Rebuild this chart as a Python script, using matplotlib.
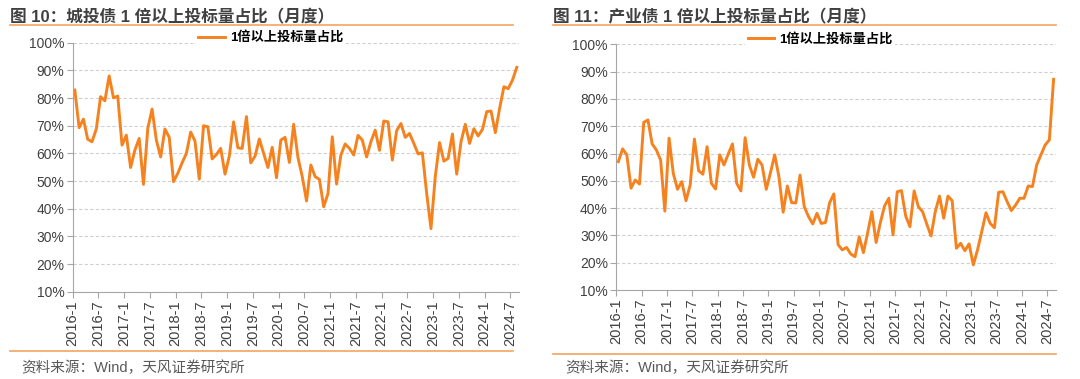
import numpy as np
import matplotlib.pyplot as plt
from matplotlib.lines import Line2D

plt.rcParams['font.family'] = ['Liberation Sans', 'Noto Sans CJK SC', 'DejaVu Sans']

# monthly, 2016-1 .. 2024-8 (%)
chengtou = [82.9, 69.3, 72.4, 65.1, 64.2, 68.8, 80.5, 79.0, 88.0, 80.1, 80.7, 63.0,
            66.6, 54.9, 61.2, 65.4, 48.8, 69.0, 76.0, 64.8, 58.7, 68.8, 65.8, 49.8,
            52.8, 56.6, 60.0, 67.7, 64.5, 50.7, 70.0, 69.6, 58.0, 59.6, 61.8, 52.5,
            59.0, 71.4, 62.0, 61.8, 73.3, 56.6, 59.0, 65.2, 60.0, 54.9, 62.2, 51.2,
            64.8, 65.8, 56.7, 70.5, 58.5, 51.6, 42.8, 55.8, 51.6, 50.6, 40.7, 45.5,
            66.0, 48.9, 59.4, 63.4, 61.8, 59.4, 66.5, 64.8, 58.7, 64.2, 68.4, 61.1,
            71.7, 71.4, 57.6, 68.2, 70.8, 65.8, 67.2, 63.6, 59.8, 60.2, 45.5, 32.8,
            51.6, 63.9, 57.2, 58.2, 67.0, 52.5, 64.2, 70.5, 63.6, 68.9, 66.3, 68.7,
            75.1, 75.3, 67.5, 76.3, 84.1, 83.4, 86.5, 91.1]
chanye = [57.0, 61.7, 59.5, 47.3, 50.3, 48.8, 71.4, 72.3, 63.5, 61.3, 57.6, 38.9,
          65.6, 52.7, 46.9, 49.7, 42.7, 48.5, 65.3, 53.7, 52.4, 62.5, 49.1, 47.0,
          59.5, 55.8, 59.8, 63.5, 49.1, 46.3, 65.8, 55.8, 51.3, 57.9, 55.8, 46.9,
          53.0, 59.5, 51.5, 38.5, 48.1, 42.0, 41.9, 52.1, 40.5, 36.9, 34.2, 38.1,
          34.4, 34.7, 42.0, 45.2, 26.6, 24.7, 25.6, 23.2, 22.2, 29.5, 23.7, 31.0,
          38.7, 27.4, 34.7, 40.8, 43.6, 30.2, 46.0, 46.4, 37.1, 33.2, 46.3, 40.5,
          38.7, 34.1, 29.8, 38.7, 44.4, 36.3, 44.4, 42.7, 25.3, 27.1, 24.4, 26.9,
          19.2, 24.7, 31.4, 38.3, 34.4, 32.8, 45.8, 46.0, 42.4, 39.1, 41.1, 43.6,
          43.6, 48.1, 47.9, 55.8, 59.5, 63.1, 65.0, 87.2]
tick_labels = ['2016-1', '2016-7', '2017-1', '2017-7', '2018-1', '2018-7', '2019-1',
               '2019-7', '2020-1', '2020-7', '2021-1', '2021-7', '2022-1', '2022-7',
               '2023-1', '2023-7', '2024-1', '2024-7']
titles = ['图 10：城投债 1 倍以上投标量占比（月度）', '图 11：产业债 1 倍以上投标量占比（月度）']
series_name = '1倍以上投标量占比'
source = '资料来源：Wind，天风证券研究所'

orange = '#F5821F'
fig = plt.figure(figsize=(10.8, 3.79), dpi=100)

axes_pos = [[0.0673, 0.2303, 0.4132, 0.657], [0.5706, 0.2348, 0.4069, 0.6483]]
legend_x = [0.444, 0.464]
panel_x = [0.009, 0.512]
for k, vals in enumerate([chengtou, chanye]):
    ax = fig.add_axes(axes_pos[k])
    x = np.arange(len(vals))
    ax.plot(x, vals, color=orange, lw=2.1, label=series_name)
    ax.set_xlim(-0.5, len(vals) - 0.5)
    ax.set_ylim(10, 100)
    ax.set_yticks(np.arange(10, 101, 10))
    ax.set_yticklabels([f'{v}%' for v in range(10, 101, 10)], fontsize=10, color='#404040')
    ax.set_xticks(np.arange(0, len(vals), 6) - 0.5)
    ax.set_xticklabels(tick_labels, rotation=90, fontsize=10.5, color='#404040')
    ax.grid(axis='y', color='#D0D0D0', ls=(0, (3, 2)), lw=0.8)
    ax.set_axisbelow(True)
    for s in ['top', 'right']:
        ax.spines[s].set_visible(False)
    for s in ['left', 'bottom']:
        ax.spines[s].set_color('#A6A6A6')
    ax.tick_params(axis='both', color='#A6A6A6', length=4, pad=2)
    leg = ax.legend(loc='center', bbox_to_anchor=(legend_x[k], 1.02), frameon=True,
                    prop={'size': 9.5, 'weight': 'bold', 'family': ['Liberation Sans', 'Noto Sans CJK SC']},
                    handlelength=2.0, handletextpad=0.4, borderpad=0.2)
    leg.get_frame().set_edgecolor('none')
    leg.get_frame().set_facecolor('white')
    leg.get_frame().set_alpha(1)

    x0 = panel_x[k]
    fig.text(x0, 0.975, titles[k], fontsize=12, fontweight='bold', color='#404040',
             va='top', ha='left')
    fig.add_artist(Line2D([x0, x0 + 0.466], [0.935, 0.935], color='#F4A460', lw=1.2))
    fig.add_artist(Line2D([x0, x0 + 0.466], [0.066 if k else 0.074] * 2, color='#F4A460', lw=1.2))
    fig.text(x0 + 0.011, 0.03, source, fontsize=10.5, color='#595959', va='center', ha='left')

fig.savefig('out.png', dpi=100)
